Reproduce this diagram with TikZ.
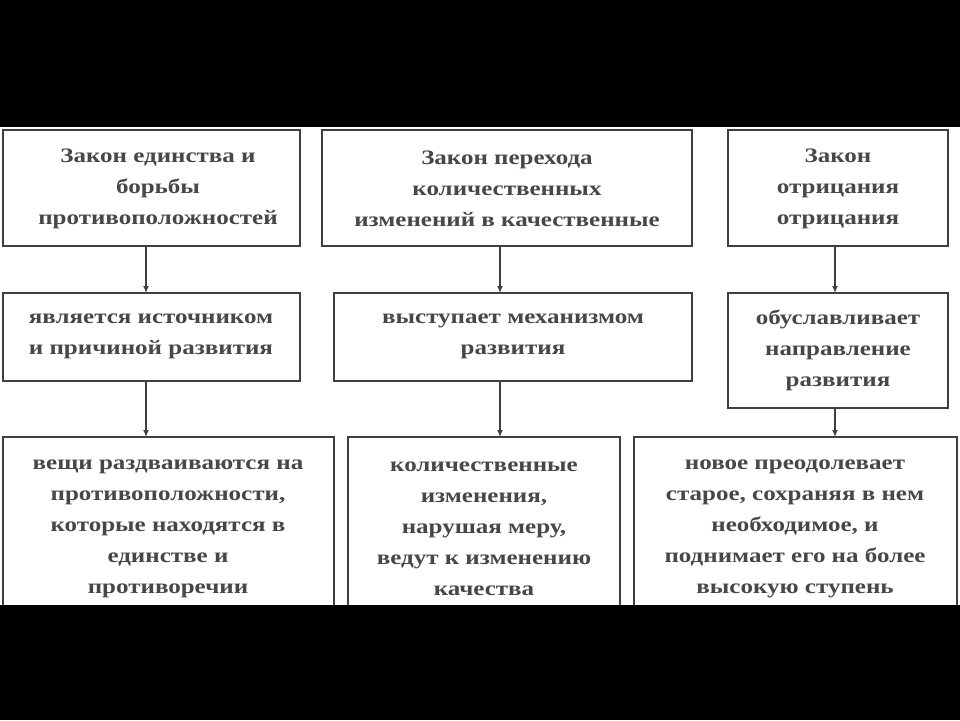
\documentclass[tikz,border=0pt]{standalone}
\usepackage{fontspec}
\usetikzlibrary{arrows.meta}
\setmainfont{Liberation Serif}[FakeStretch=1.22]
\begin{document}
\begin{tikzpicture}[x=1pt,y=-1pt,
  bx/.style={draw=black!75,line width=1.6pt,fill=white},
  tx/.style={align=center,font=\bfseries\fontsize{20.5}{31}\selectfont,text=black!72},
  ar/.style={draw=black!75,line width=1.2pt,-{Latex[length=7pt,width=6pt]}}]
\useasboundingbox (0,0) rectangle (960,720);
\fill[white] (0,0) rectangle (960,720);
% boxes
\draw[bx] (3,130) rectangle (300,246);
\draw[bx] (322,130) rectangle (692,246);
\draw[bx] (728,130) rectangle (948,246);
\draw[bx] (3,293) rectangle (300,381);
\draw[bx] (334,293) rectangle (692,381);
\draw[bx] (728,293) rectangle (948,408);
\draw[bx] (3,437) rectangle (334,620);
\draw[bx] (348,437) rectangle (620,620);
\draw[bx] (634,437) rectangle (957,620);
\node[tx] (a1) at (158,189) {Закон единства и\\борьбы\\противоположностей};
\node[tx] (b1) at (507,189) {Закон перехода\\количественных\\изменений в качественные};
\node[tx] (c1) at (838,189) {Закон\\отрицания\\отрицания};
\node[tx] (a2) at (151,336) {является источником\\и причиной развития};
\node[tx] (b2) at (513,336) {выступает механизмом\\развития};
\node[tx] (c2) at (838,350) {обуславливает\\направление\\развития};
\node[tx] (a3) at (168,529) {вещи раздваиваются на\\противоположности,\\которые находятся в\\единстве и\\противоречии};
\node[tx] (b3) at (484,529) {количественные\\изменения,\\нарушая меру,\\ведут к изменению\\качества};
\node[tx] (c3) at (795,529) {новое преодолевает\\старое, сохраняя в нем\\необходимое, и\\поднимает его на более\\высокую ступень};
\coordinate (p1) at (146,246); \coordinate (q1) at (146,293);
\coordinate (p2) at (146,381); \coordinate (q2) at (146,437);
\coordinate (p3) at (500,246); \coordinate (q3) at (500,293);
\coordinate (p4) at (500,381); \coordinate (q4) at (500,437);
\coordinate (p5) at (835,246); \coordinate (q5) at (835,293);
\coordinate (p6) at (835,408); \coordinate (q6) at (835,437);
\foreach \i in {1,...,6} \draw[ar] (p\i) -- (q\i);
\fill[black] (0,0) rectangle (960,127);
\fill[black] (0,605) rectangle (960,720);
\end{tikzpicture}
\end{document}
